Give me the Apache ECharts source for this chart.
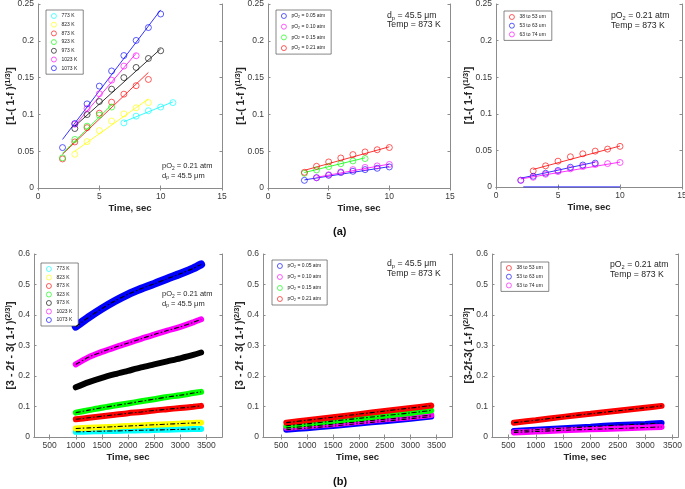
<!DOCTYPE html>
<html><head><meta charset="utf-8">
<script src="https://cdn.jsdelivr.net/npm/echarts@6/dist/echarts.min.js"></script>
<style>html,body{margin:0;padding:0;background:#fff}#c{width:685px;height:489px}</style>
</head><body><div id="c"></div><script>
// ---------------- DATA ----------------
// (a) left: temperatures, pO2 = 0.21 atm
const tempNames = ['773 K','823 K','873 K','923 K','973 K','1023 K','1073 K'];
const tA773 = [7,8,9,10,11];            const yA773 = [0.0885,0.0976,0.105,0.110,0.116];   const fitA773 = [0.090,0.117];
const tA823 = [3,4,5,6,7,8,9];          const yA823 = [0.0458,0.063,0.078,0.091,0.1007,0.109,0.116]; const fitA823 = [0.050,0.121];
const tA873 = [2,3,4,5,6,7,8,9];        const yA873 = [0.0395,0.0626,0.082,0.1016,0.1166,0.1275,0.139,0.1475]; const fitA873 = [0.046,0.157];
const tA923 = [2,3,4,5,6];              const yA923 = [0.041,0.066,0.084,0.099,0.110];     const fitA923 = [0.047,0.113];
const tA973 = [3,4,5,6,7,8,9,10];       const yA973 = [0.0808,0.0998,0.1175,0.1343,0.150,0.1638,0.176,0.1865]; const fitA973 = [0.084,0.189];
const tA1023 = [3,4,5,6,7,8];           const yA1023 = [0.0867,0.108,0.128,0.1465,0.1656,0.1797]; const fitA1023 = [0.085,0.183];
const tA1073 = [2,3,4,5,6,7,8,9,10];    const yA1073 = [0.0549,0.0876,0.1143,0.1384,0.159,0.180,0.2005,0.218,0.2364]; const fitA1073 = [0.066,0.242];

// (a) middle: oxygen partial pressure, 873 K
const pNames = ['pO2 = 0.05 atm','pO2 = 0.10 atm','pO2 = 0.15 atm','pO2 = 0.21 atm'];
const tP005 = [3,4,5,6,7,8,9,10];  const yP005 = [0.0104,0.014,0.0172,0.0209,0.0227,0.025,0.0268,0.0286]; const fitP005 = [0.011,0.029];
const tP010 = [4,5,6,7,8,9,10];    const yP010 = [0.014,0.018,0.0218,0.025,0.028,0.030,0.032];          const fitP010 = [0.0145,0.0325];
const tP015 = [3,4,5,6,7,8];       const yP015 = [0.020,0.0245,0.029,0.033,0.0368,0.040];                const fitP015 = [0.021,0.041];
const tP021 = [3,4,5,6,7,8,9,10];  const yP021 = [0.0213,0.0295,0.0354,0.0408,0.0454,0.049,0.052,0.055]; const fitP021 = [0.024,0.056];

// (a) right: particle size, 873 K, pO2 = 0.21 atm
const sNames = ['38 to 53 um','53 to 63 um','63 to 74 um'];
const tS38 = [3,4,5,6,7,8,9,10];   const yS38 = [0.022,0.0289,0.0353,0.0413,0.0454,0.049,0.0518,0.0555]; const fitS38 = [0.024,0.056];
const tS53 = [2,3,4,5,6,7,8];      const yS53 = [0.0092,0.0147,0.0188,0.0225,0.027,0.030,0.0326];        const fitS53 = [0.012,0.034];
const tS63 = [2,3,4,5,6,7,8,9,10]; const yS63 = [0.0092,0.0133,0.0174,0.0211,0.0248,0.028,0.0307,0.032,0.0335]; const fitS63 = [0.011,0.034];
const tS53zero = [2.2,10];         const yS53zero = [0,0];

// (b) left: temperatures
const tB1 = [1000,1250,1500,1750,2000,2250,2500,2750,3000,3250,3400];
const yB773  = [0.017,0.018,0.019,0.020,0.021,0.022,0.023,0.024,0.025,0.026,0.026];
const yB823  = [0.028,0.030,0.032,0.034,0.036,0.038,0.040,0.042,0.044,0.046,0.047];
const yB873  = [0.058,0.063,0.068,0.073,0.078,0.082,0.087,0.091,0.095,0.099,0.102];
const yB923  = [0.080,0.088,0.096,0.103,0.110,0.117,0.124,0.131,0.137,0.144,0.148];
const yB973  = [0.163,0.180,0.194,0.206,0.217,0.228,0.238,0.248,0.258,0.269,0.277];
const yB1023 = [0.238,0.262,0.279,0.294,0.308,0.322,0.336,0.349,0.361,0.376,0.386];
const yB1073 = [0.362,0.393,0.421,0.446,0.468,0.486,0.502,0.519,0.535,0.553,0.566];

// (b) middle: pO2
const tB2 = [600,1000,1500,2000,2500,3000,3400];
const yBP005 = [0.024,0.029,0.036,0.044,0.052,0.060,0.067];
const yBP010 = [0.030,0.035,0.042,0.050,0.058,0.065,0.072];
const yBP015 = [0.037,0.043,0.052,0.061,0.070,0.079,0.087];
const yBP021 = [0.047,0.055,0.065,0.075,0.085,0.095,0.103];

// (b) right: particle size
const tB3 = [600,1000,1500,2000,2500,3000,3300];
const yBS38 = [0.047,0.055,0.066,0.076,0.086,0.096,0.102];
const yBS53 = [0.020,0.024,0.029,0.034,0.039,0.043,0.046];
const yBS63 = [0.015,0.018,0.022,0.025,0.028,0.031,0.033];

// tick labels
const topXTicks = [0,5,10,15];
const topYTicks = [0,0.05,0.1,0.15,0.2,0.25];
const botXTicks = [500,1000,1500,2000,2500,3000,3500];
const botYTicks = [0,0.1,0.2,0.3,0.4,0.5,0.6];

// ---------------- STYLE ----------------
const FONT = '"Liberation Sans", Arial, Helvetica, sans-serif';
const AXC = '#8c8c8c';
const TXC = '#3a3a3a';
const C = {c:'#00FFFF', y:'#FFFF00', r:'#FF0000', g:'#00FF00', k:'#000000', m:'#FF00FF', b:'#0000FF'};
const tempColors = [C.c, C.y, C.r, C.g, C.k, C.m, C.b];
const pColors = [C.b, C.m, C.g, C.r];
const sColors = [C.r, C.b, C.m];

const grids = [
  {left:38, top:4, width:184, height:184},
  {left:268, top:4, width:182, height:184},
  {left:496, top:4, width:186, height:183},
  {left:34, top:254, width:188, height:183},
  {left:263, top:254, width:189, height:183},
  {left:492, top:254, width:186, height:183}
];
const xRanges = [[0,15],[0,15],[0,15],[200,3800],[150,3800],[200,3600]];
const yNames = [
  '[1-( 1-f ){s|(1/3)}]', '[1-( 1-f ){s|(1/3)}]', '[1-( 1-f ){s|(1/3)}]',
  '[3 - 2f - 3( 1-f ){s|(2/3)}]', '[3 - 2f - 3( 1-f ){s|(2/3)}]', '[3-2f-3( 1-f ){s|(2/3)}]'
];

const xAxis = [], yAxis = [];
grids.forEach((g, i) => {
  const top = i < 3;
  const xt = top ? topXTicks : botXTicks;
  const yt = top ? topYTicks : botYTicks;
  const base = {
    min: xRanges[i][0], max: xRanges[i][1], type: 'value', gridIndex: i,
    splitLine: {show:false},
    axisLine: {show:true, lineStyle:{color:AXC, width:1}},
    axisTick: {show:true, inside:true, length:2.5, lineStyle:{color:AXC}, customValues: xt},
  };
  xAxis.push(Object.assign({}, base, {
    position:'bottom',
    axisLabel: {customValues: xt, fontSize:8.5, color:TXC, fontFamily:FONT, margin:4, formatter: v => String(v)},
    name: 'Time, sec', nameLocation:'middle', nameGap:15, nameMoveOverlap:false,
    nameTextStyle: {fontWeight:'bold', fontSize:9.5, color:'#262626', fontFamily:FONT}
  }));
  xAxis.push(Object.assign({}, base, {position:'top', axisLabel:{show:false}}));
  const ybase = {
    min: yt[0], max: yt[yt.length-1], type:'value', gridIndex:i,
    splitLine:{show:false},
    axisLine:{show:true, onZero:false, lineStyle:{color:AXC, width:1}},
    axisTick:{show:true, inside:true, length:2.5, lineStyle:{color:AXC}, customValues: yt}
  };
  yAxis.push(Object.assign({}, ybase, {
    position:'left',
    axisLabel:{customValues: yt, fontSize:8.5, color:TXC, fontFamily:FONT, margin:4, formatter: v => String(v)},
    name: yNames[i], nameLocation:'middle', nameGap: top ? 20 : 16, nameMoveOverlap:false,
    nameTextStyle:{fontWeight:'bold', fontSize:10.5, color:'#262626', fontFamily:FONT, lineHeight:14,
      rich:{s:{fontSize:7.5, fontWeight:'bold', color:'#262626', fontFamily:FONT, verticalAlign:'top', lineHeight:7}}}
  }));
  yAxis.push(Object.assign({}, ybase, {position:'right', axisLabel:{show:false}}));
});

const series = [];
function scatterSet(gi, name, color, ts, ys, fit) {
  series.push({
    type:'line', xAxisIndex:gi*2, yAxisIndex:gi*2, silent:true, showSymbol:false,
    data:[[ts[0], fit[0]], [ts[ts.length-1], fit[1]]],
    lineStyle:{color:color, width:0.8}, itemStyle:{color:color}, z:2
  });
  series.push({
    type:'scatter', name:name, xAxisIndex:gi*2, yAxisIndex:gi*2, silent:true,
    symbol:'circle', symbolSize:6,
    data: ts.map((t,k)=>[t, ys[k]]),
    itemStyle:{color:'rgba(0,0,0,0)', borderColor:color, borderWidth:0.8}, z:3
  });
}
function bandSet(gi, name, color, ts, ys, w) {
  series.push({
    type:'line', name:name, xAxisIndex:gi*2, yAxisIndex:gi*2, silent:true, showSymbol:false, smooth:0.3,
    data: ts.map((t,k)=>[t, ys[k]]),
    lineStyle:{color:color, width:w || 6, cap:'round'}, itemStyle:{color:color}, z:2
  });
}
function fitSet(gi, ts, ys) {
  series.push({
    type:'line', xAxisIndex:gi*2, yAxisIndex:gi*2, silent:true, showSymbol:false, smooth:0.3,
    data: ts.map((t,k)=>[t, ys[k]]),
    lineStyle:{color:'#000', width:1.1, type:[5,2,1.5,2]}, z:4
  });
}

// panel 0
const aT = [[tA773,yA773,fitA773],[tA823,yA823,fitA823],[tA873,yA873,fitA873],[tA923,yA923,fitA923],
            [tA973,yA973,fitA973],[tA1023,yA1023,fitA1023],[tA1073,yA1073,fitA1073]];
aT.forEach((d,i)=>scatterSet(0, tempNames[i], tempColors[i], d[0], d[1], d[2]));
// panel 1
const aP = [[tP005,yP005,fitP005],[tP010,yP010,fitP010],[tP015,yP015,fitP015],[tP021,yP021,fitP021]];
aP.forEach((d,i)=>scatterSet(1, pNames[i], pColors[i], d[0], d[1], d[2]));
// panel 2
const aS = [[tS38,yS38,fitS38],[tS53,yS53,fitS53],[tS63,yS63,fitS63]];
aS.forEach((d,i)=>scatterSet(2, sNames[i], sColors[i], d[0], d[1], d[2]));
series.push({type:'line', xAxisIndex:4, yAxisIndex:4, silent:true, showSymbol:false,
  data: tS53zero.map((t,k)=>[t, yS53zero[k]]), lineStyle:{color:C.b, width:1}, z:5});
// panel 3
const bT = [yB773,yB823,yB873,yB923,yB973,yB1023,yB1073];
bT.forEach((ys,i)=>bandSet(3, tempNames[i], tempColors[i], tB1, ys, i===6 ? 8 : 6));
bT.forEach(ys=>fitSet(3, tB1, ys));
// panel 4
const bP = [yBP005,yBP010,yBP015,yBP021];
bP.forEach((ys,i)=>bandSet(4, pNames[i], pColors[i], tB2, ys, 6));
bP.forEach(ys=>fitSet(4, tB2, ys));
// panel 5
const bS = [yBS38,yBS53,yBS63];
bS.forEach((ys,i)=>bandSet(5, sNames[i], sColors[i], tB3, ys, 6));
bS.forEach(ys=>fitSet(5, tB3, ys));

function mkLegend(names, colors, left, top, gap) {
  return {
    orient:'vertical', left:left, top:top, selectedMode:false,
    itemWidth:5, itemHeight:5, itemGap:gap, icon:'circle',
    padding:[3,6,3,5], borderColor:'#555', borderWidth:0.7, backgroundColor:'#fff',
    data: names.map((n,i)=>({name:n, itemStyle:{color:'rgba(0,0,0,0)', borderColor:colors[i], borderWidth:0.8}})),
    formatter: n => n.replace('pO2', 'pO{s|2}'),
    textStyle:{fontSize:5, color:'#222', fontFamily:FONT, lineHeight:6,
      rich:{s:{fontSize:3.5, verticalAlign:'bottom', lineHeight:6}}}
  };
}
const legend = [
  mkLegend(tempNames, tempColors, 46, 10, 2.7),
  mkLegend(pNames, pColors, 276, 10, 4.7),
  mkLegend(sNames, sColors, 504, 11, 2.7),
  mkLegend(tempNames, tempColors, 41, 263, 2.5),
  mkLegend(pNames, pColors, 272, 260, 5),
  mkLegend(sNames, sColors, 501, 262, 2.7)
];

function ann(x, cy, txt, fs) {
  return {type:'text', left:x, top:cy - fs*0.65, silent:true,
    style:{text:txt, fontSize:fs, fontFamily:FONT, fill:'#262626', lineHeight:fs*1.3,
      rich:{s:{fontSize:fs*0.65, fontFamily:FONT, fill:'#262626', verticalAlign:'bottom', lineHeight:fs*1.3}}}};
}
const graphic = [
  ann(162, 166, 'pO{s|2} = 0.21 atm', 7.5), ann(162, 175.5, 'd{s|p} = 45.5 μm', 7.5),
  ann(387, 15.5, 'd{s|p} = 45.5 μm', 8.7), ann(387, 25, 'Temp = 873 K', 8.7),
  ann(611, 16, 'pO{s|2} = 0.21 atm', 8.7), ann(611, 26, 'Temp = 873 K', 8.7),
  ann(162, 294.3, 'pO{s|2} = 0.21 atm', 7.5), ann(162, 303.5, 'd{s|p} = 45.5 μm', 7.5),
  ann(387, 264, 'd{s|p} = 45.5 μm', 8.7), ann(387, 273.5, 'Temp = 873 K', 8.7),
  ann(610, 265, 'pO{s|2} = 0.21 atm', 8.7), ann(610, 274.5, 'Temp = 873 K', 8.7),
  {type:'text', left:333, top:226, silent:true, style:{text:'(a)', fontSize:11, fontWeight:'bold', fontFamily:FONT, fill:'#111'}},
  {type:'text', left:333, top:476, silent:true, style:{text:'(b)', fontSize:11, fontWeight:'bold', fontFamily:FONT, fill:'#111'}}
];

const chart = echarts.init(document.getElementById('c'), null, {renderer:'canvas'});
chart.setOption({
  animation:false,
  backgroundColor:'#fff',
  grid: grids.map(g=>Object.assign({containLabel:false, outerBoundsMode:'none'}, g)),
  xAxis, yAxis, series, legend, graphic
});
</script></body></html>
